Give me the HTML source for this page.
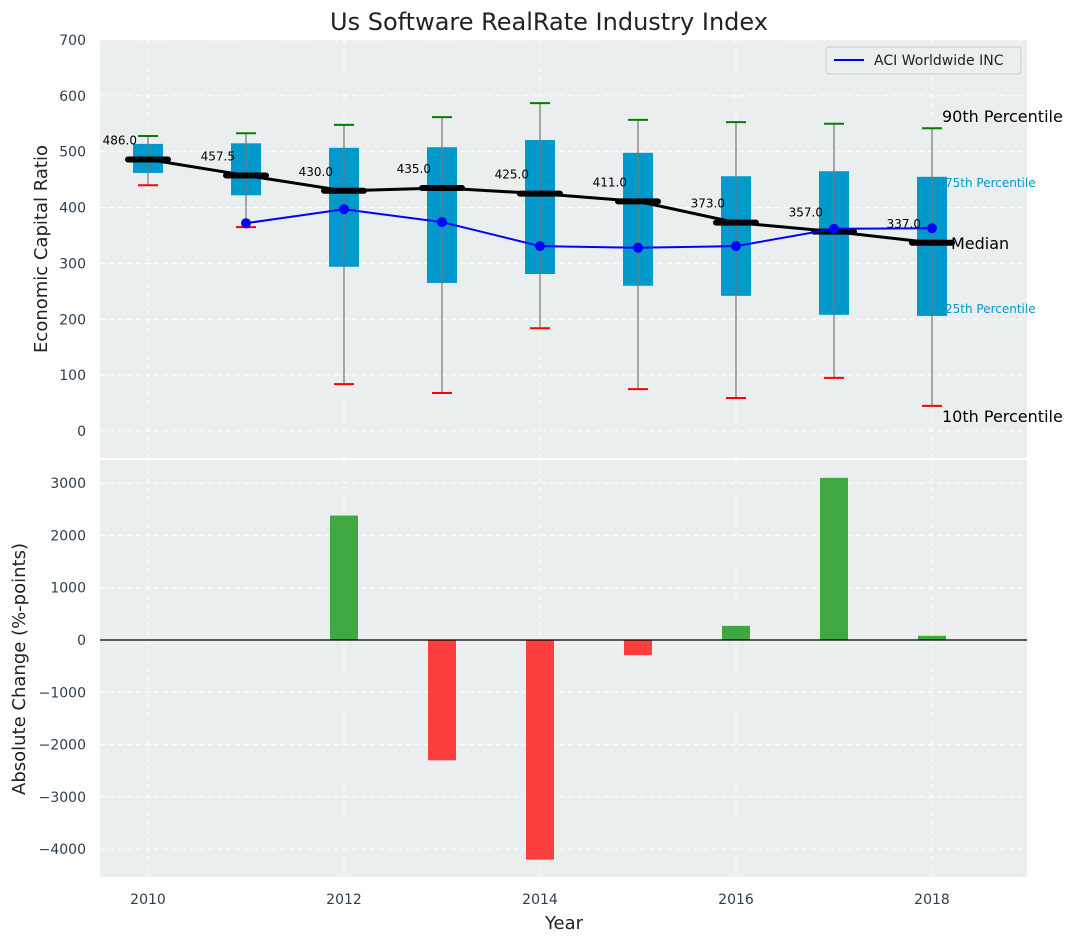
<!DOCTYPE html>
<html><head><meta charset="utf-8"><style>
body{margin:0;background:#fff;}
svg{display:block;font-family:"DejaVu Sans","Liberation Sans",sans-serif;}
</style></head><body>
<svg id="chart" width="1077" height="942" xmlns="http://www.w3.org/2000/svg">
<rect width="1077" height="942" fill="#fff"/>
<text x="549" y="30" font-size="24" text-anchor="middle" fill="#222">Us Software RealRate Industry Index</text>
<rect x="100" y="40" width="927" height="418" fill="#eaeeee"/>
<rect x="100" y="460" width="927" height="417" fill="#eaeeee"/>
<g id="grid"></g>
<g id="marks"></g>
<g id="ticks" font-size="14" fill="#2d3e50"></g>
<text transform="translate(47,249) rotate(-90)" font-size="18" text-anchor="middle" fill="#222">Economic Capital Ratio</text>
<text transform="translate(25,669) rotate(-90)" font-size="18" text-anchor="middle" fill="#222">Absolute Change (%-points)</text>
<text x="564" y="929" font-size="18" text-anchor="middle" fill="#222">Year</text>
<g>
<rect x="826" y="47" width="195" height="27" rx="3" fill="#eaeeee" stroke="#ccc"/>
<line x1="834" y1="60" x2="864" y2="60" stroke="#0000ff" stroke-width="2"/>
<text x="874" y="65" font-size="14" fill="#222">ACI Worldwide INC</text>
</g>
</svg>
<script>
const years=[2010,2011,2012,2013,2014,2015,2016,2017,2018];
const p90=[528,533,548,562,587,557,553,550,542];
const p75=[514,515,507,508,521,498,456,465,455];
const median=[486,457.5,430,435,425,411,373,357,337];
const p25=[462,422,294,265,281,260,242,208,206];
const p10=[440,365,84,68,184,75,59,95,45];
const aciYears=[2011,2012,2013,2014,2015,2016,2017,2018];
const aci=[372,397,374,331,328,331,362,363];
const changeYears=[2012,2013,2014,2015,2016,2017,2018];
const changes=[2380,-2300,-4200,-290,270,3100,80];
const topTicks=[0,100,200,300,400,500,600,700];
const botTicks=[-4000,-3000,-2000,-1000,0,1000,2000,3000];
const xTicks=[2010,2012,2014,2016,2018];

const NS="http://www.w3.org/2000/svg";
const X=v=>148+(v-2010)*98;
const Y1=v=>431-v*0.5586;
const Y2=v=>640-v*0.0523;
function mk(tag,attrs,parent,txt){const e=document.createElementNS(NS,tag);for(const k in attrs)e.setAttribute(k,attrs[k]);if(txt!==undefined)e.textContent=txt;document.getElementById(parent).appendChild(e);return e;}
topTicks.forEach(t=>{const e=mk('line',{x1:100,x2:1027,y1:Y1(t),y2:Y1(t),stroke:'#fff','stroke-dasharray':'5,4','stroke-width':1},'grid');

});
botTicks.forEach(t=>{const e=mk('line',{x1:100,x2:1027,y1:Y2(t),y2:Y2(t),stroke:'#fff','stroke-dasharray':'5,4','stroke-width':1},'grid');

});
xTicks.forEach(t=>{[[40,458],[460,877]].forEach(r=>{const e=mk('line',{x1:X(t),x2:X(t),y1:r[0],y2:r[1],stroke:'#fff','stroke-dasharray':'5,4','stroke-width':1},'grid');

});});
const lx=X(2018);
[['90th Percentile',p90[8],16,'#000',lx+10,-6],['75th Percentile',p75[8],12,'#0099cc',lx+13,10],['Median',median[8],16,'#000',lx+19,6],['25th Percentile',p25[8],12,'#0099cc',lx+13,-3],['10th Percentile',p10[8],16,'#000',lx+10,16]].forEach(a=>{
const e=mk('text',{x:a[4],y:Y1(a[1])+a[5],'font-size':a[2],fill:a[3]},'marks',a[0]);

});
years.forEach((y,i)=>{const x=X(y);
let e=mk('rect',{x:x-15,y:Y1(p75[i]),width:30,height:Y1(p25[i])-Y1(p75[i]),fill:'#0099cc'},'marks');


e=mk('line',{x1:x,x2:x,y1:Y1(p90[i]),y2:Y1(p10[i]),stroke:'#777','stroke-width':1.2},'marks');


e=mk('line',{x1:x-10,x2:x+10,y1:Y1(p90[i]),y2:Y1(p90[i]),stroke:'green','stroke-width':2},'marks');


e=mk('line',{x1:x-10,x2:x+10,y1:Y1(p10[i]),y2:Y1(p10[i]),stroke:'red','stroke-width':2},'marks');

});
let pts=years.map((y,i)=>X(y)+','+Y1(median[i])).join(' ');
let ml=mk('polyline',{points:pts,fill:'none',stroke:'#000','stroke-width':3},'marks');


years.forEach((y,i)=>{const x=X(y);
let e=mk('line',{x1:x-20,x2:x+20,y1:Y1(median[i]),y2:Y1(median[i]),stroke:'#000','stroke-width':6,'stroke-linecap':'round'},'marks');


e=mk('text',{x:x-11,y:Y1(median[i])-15,'font-size':12,'text-anchor':'end',fill:'#000'},'marks',median[i].toFixed(1));

});
pts=aciYears.map((y,i)=>X(y)+','+Y1(aci[i])).join(' ');
let al=mk('polyline',{points:pts,fill:'none',stroke:'#0000ff','stroke-width':2},'marks');


aciYears.forEach((y,i)=>{const e=mk('circle',{cx:X(y),cy:Y1(aci[i]),r:5,fill:'#0000ff'},'marks');

});
changeYears.forEach((y,i)=>{const v=changes[i];const y0=Y2(0),y1=Y2(v);
const e=mk('rect',{x:X(y)-14,y:Math.min(y0,y1),width:28,height:Math.abs(y1-y0),fill:v>=0?'#2ca02c':'#ff2a2a','fill-opacity':0.9},'marks');

});
let zl=mk('line',{x1:100,x2:1027,y1:Y2(0),y2:Y2(0),stroke:'#000','stroke-width':1.2},'marks');


topTicks.forEach(t=>{const e=mk('text',{x:86,y:Y1(t)+5,'text-anchor':'end'},'ticks',t);

});
botTicks.forEach(t=>{const e=mk('text',{x:86,y:Y2(t)+5,'text-anchor':'end'},'ticks',t<0?'\u2212'+Math.abs(t):t);

});
xTicks.forEach(t=>{const e=mk('text',{x:X(t),y:904,'text-anchor':'middle'},'ticks',t);

});
</script>
</body></html>
